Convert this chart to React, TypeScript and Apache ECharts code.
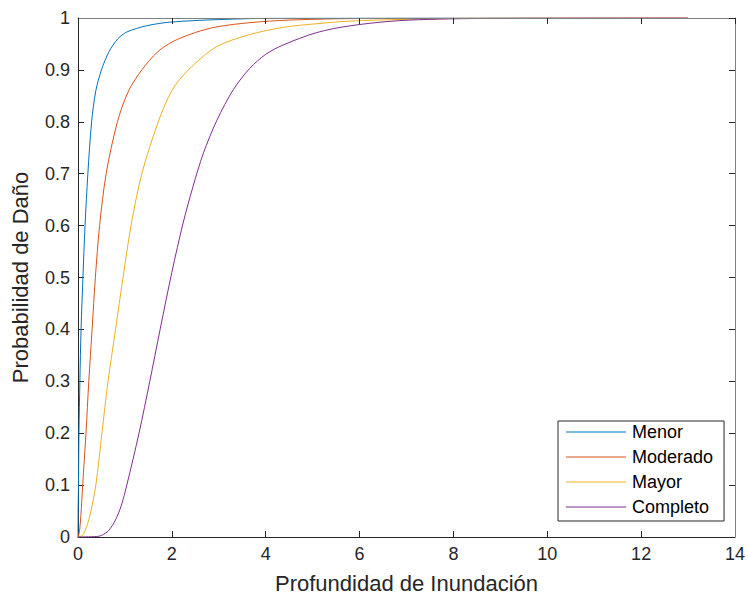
import React, { useEffect, useRef } from "react";
import * as echarts from "echarts";

const seriesNames = ["Menor", "Moderado", "Mayor", "Completo"];
const seriesColors = ["#0072BD", "#D95319", "#EDB120", "#7E2F8E"];

const menor: [number, number][] = [
  [0, 0], [0.003, 0.05], [0.01, 0.1], [0.02, 0.2], [0.04, 0.3], [0.065, 0.4],
  [0.105, 0.5], [0.15, 0.6], [0.21, 0.7], [0.29, 0.8], [0.38, 0.86], [0.5, 0.9],
  [0.66, 0.935], [0.85, 0.96], [1.04, 0.973], [1.46, 0.985], [1.96, 0.992],
  [3.0, 0.997], [4.2, 0.9995], [13, 1],
];
const moderado: [number, number][] = [
  [0, 0], [0.03, 0.01], [0.06, 0.04], [0.1, 0.1], [0.17, 0.2], [0.23, 0.3],
  [0.3, 0.4], [0.37, 0.5], [0.46, 0.6], [0.6, 0.7], [0.84, 0.8], [1.08, 0.86],
  [1.36, 0.9], [1.7, 0.935], [2.03, 0.955], [2.5, 0.972], [2.96, 0.983],
  [3.66, 0.991], [4.5, 0.996], [6.0, 0.999], [13, 1],
];
const mayor: [number, number][] = [
  [0, 0], [0.08, 0.002], [0.15, 0.012], [0.25, 0.04], [0.38, 0.1], [0.51, 0.2],
  [0.64, 0.3], [0.8, 0.4], [0.96, 0.5], [1.13, 0.6], [1.36, 0.7], [1.71, 0.8],
  [2.0, 0.86], [2.35, 0.9], [2.96, 0.945], [3.66, 0.968], [4.37, 0.982],
  [5.09, 0.989], [5.8, 0.994], [6.8, 0.997], [8.4, 0.9995], [13, 1],
];
const completo: [number, number][] = [
  [0, 0], [0.4, 0.001], [0.5, 0.003], [0.65, 0.012], [0.8, 0.033], [0.92, 0.06],
  [1.04, 0.1], [1.3, 0.2], [1.53, 0.3], [1.75, 0.4], [2.0, 0.51], [2.24, 0.605],
  [2.45, 0.675], [2.67, 0.739], [2.96, 0.803], [3.31, 0.862], [3.66, 0.903],
  [4.0, 0.93], [4.37, 0.948], [5.09, 0.972], [5.8, 0.985], [6.86, 0.995],
  [8.5, 0.999], [13, 1],
];
const seriesData = [menor, moderado, mayor, completo];

const xTitle = "Profundidad de Inundación";
const yTitle = "Probabilidad de Daño";

export default function App() {
  const ref = useRef<HTMLDivElement>(null);
  useEffect(() => {
    if (!ref.current) return;
    const chart = echarts.init(ref.current, undefined, { renderer: "svg" });
    const font = "Liberation Sans, Arial, sans-serif";
    const axisColor = "#262626";
    const edgeColor = "#808080";
    const baseAxis = {
      type: "value" as const,
      splitLine: { show: false },
      axisTick: { show: true, inside: true, length: 6, lineStyle: { color: axisColor, width: 1 } },
    };
    chart.setOption({
      animation: false,
      backgroundColor: "#ffffff",
      grid: { left: 78, right: 13, top: 18, bottom: 62, containLabel: false },
      xAxis: [
        {
          ...baseAxis,
          position: "bottom",
          min: 0,
          max: 14,
          interval: 2,
          axisLine: { show: true, onZero: false, lineStyle: { color: axisColor, width: 1 } },
          axisLabel: { fontSize: 18, color: axisColor, fontFamily: font, margin: 8 },
          name: xTitle,
          nameLocation: "middle",
          nameGap: 35,
          nameTextStyle: { fontSize: 22, color: axisColor, fontFamily: font },
        },
        {
          ...baseAxis,
          position: "top",
          min: 0,
          max: 14,
          interval: 2,
          z: 5,
          axisLine: { show: true, onZero: false, lineStyle: { color: edgeColor, width: 1 } },
          axisLabel: { show: false },
        },
      ],
      yAxis: [
        {
          ...baseAxis,
          position: "left",
          min: 0,
          max: 1,
          interval: 0.1,
          axisLine: { show: true, onZero: false, lineStyle: { color: axisColor, width: 1 } },
          axisLabel: {
            fontSize: 18,
            color: axisColor,
            fontFamily: font,
            margin: 8,
            formatter: (v: number) => String(Math.round(v * 10) / 10),
          },
          name: yTitle,
          nameLocation: "middle",
          nameGap: 47,
          nameTextStyle: { fontSize: 22, color: axisColor, fontFamily: font },
        },
        {
          ...baseAxis,
          position: "right",
          min: 0,
          max: 1,
          interval: 0.1,
          z: 5,
          axisLine: { show: true, onZero: false, lineStyle: { color: edgeColor, width: 1 } },
          axisLabel: { show: false },
        },
      ],
      legend: {
        show: true,
        orient: "vertical",
        left: 558,
        top: 421,
        width: 150,
        padding: [2, 11, 5, 8],
        itemGap: 7,
        itemWidth: 60,
        itemHeight: 18,
        icon: "path://M0,0 H60 V1 H0 Z",
        itemStyle: { borderWidth: 0 },
        backgroundColor: "#ffffff",
        borderColor: "#262626",
        borderWidth: 1,
        borderRadius: 0,
        textStyle: { fontSize: 18, color: "#000000", fontFamily: font, padding: [0, 0, 0, 1] },
        data: seriesNames,
      },
      series: seriesNames.map((name, i) => ({
        name,
        type: "line",
        xAxisIndex: 0,
        yAxisIndex: 0,
        data: seriesData[i],
        symbol: "none",
        showSymbol: false,
        smooth: 0.3,
        lineStyle: { color: seriesColors[i], width: 1 },
        itemStyle: { color: seriesColors[i] },
        emphasis: { disabled: true },
      })),
    });
    return () => chart.dispose();
  }, []);
  return <div ref={ref} style={{ width: 748, height: 599, position: "fixed", left: 0, top: 0, background: "#fff" }} />;
}
